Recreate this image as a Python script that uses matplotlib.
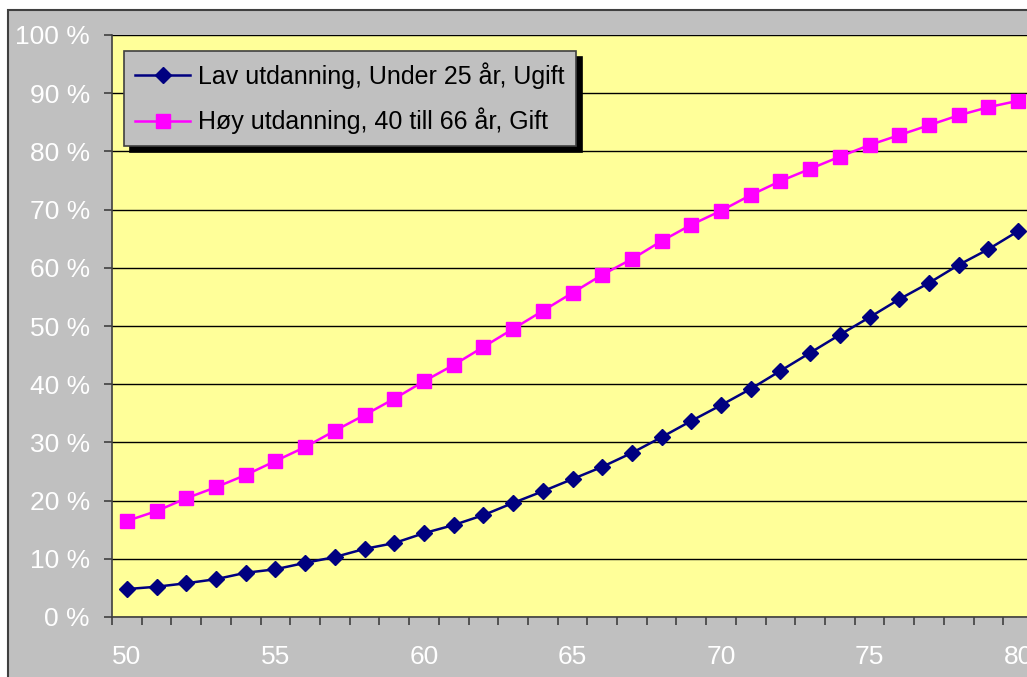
import matplotlib
matplotlib.use("Agg")
import matplotlib.pyplot as plt
from matplotlib.patches import Rectangle
from matplotlib.ticker import FixedLocator, FuncFormatter

ages = list(range(50, 81))
lav = [4.8, 5.2, 5.8, 6.5, 7.6, 8.2, 9.3, 10.3, 11.7, 12.7, 14.4, 15.8, 17.5, 19.6,
       21.6, 23.7, 25.8, 28.2, 30.9, 33.7, 36.4, 39.2, 42.3, 45.4, 48.5, 51.5, 54.6,
       57.4, 60.5, 63.2, 66.3]
hoy = [16.5, 18.2, 20.4, 22.3, 24.4, 26.8, 29.2, 32.0, 34.7, 37.5, 40.5, 43.3, 46.4,
       49.5, 52.6, 55.7, 58.8, 61.5, 64.6, 67.4, 69.8, 72.5, 74.9, 77.0, 79.1, 81.1,
       82.8, 84.5, 86.2, 87.6, 88.7]
series_names = ["Lav utdanning, Under 25 år, Ugift", "Høy utdanning, 40 till 66 år, Gift"]
x_labels = [50, 55, 60, 65, 70, 75, 80]
y_ticks = list(range(0, 101, 10))

plt.rcParams['font.family'] = ['Liberation Sans', 'DejaVu Sans']

W, H = 1027, 677
fig = plt.figure(figsize=(W / 100, H / 100), dpi=100, facecolor='white')

# chart area (grey) with border
fig.patches.append(Rectangle((8 / W, -0.1), 1.2, (H - 10) / H + 0.1, transform=fig.transFigure,
                             facecolor='#c0c0c0', edgecolor='#404040', linewidth=1.5, zorder=-5))

left, top, bottom, right = 112, 35, 617, 1033
ax = fig.add_axes([left / W, (H - bottom) / H, (right - left) / W, (bottom - top) / H])
ax.set_zorder(1)
ax.set_facecolor('#ffff99')

ax.plot(ages, lav, color='#000080', marker='D', markersize=8, linewidth=1.8,
        label=series_names[0], clip_on=False, zorder=3)
ax.plot(ages, hoy, color='#ff00ff', marker='s', markersize=10, linewidth=1.8,
        label=series_names[1], clip_on=False, zorder=3)

ax.set_xlim(49.5, 80.5)
ax.set_ylim(0, 100)

ax.set_yticks(y_ticks)
ax.yaxis.set_major_formatter(FuncFormatter(lambda v, p: f"{int(v)} %"))
ax.grid(axis='y', color='black', linewidth=1.0)
ax.set_axisbelow(True)

ax.xaxis.set_major_locator(FixedLocator(x_labels))
ax.xaxis.set_minor_locator(FixedLocator([a - 0.5 for a in ages] + [80.5]))
ax.tick_params(axis='x', which='major', length=0, pad=20, labelsize=19, labelcolor='white')
ax.tick_params(axis='x', which='minor', length=6, width=1.2, color='#404040', direction='out')
ax.tick_params(axis='y', which='major', length=6, width=1.2, color='#404040', direction='out',
               labelsize=19, labelcolor='white', pad=10)

for s in ['top', 'right']:
    ax.spines[s].set_visible(False)
for s in ['left', 'bottom']:
    ax.spines[s].set_color('#404040')
    ax.spines[s].set_linewidth(1.2)

leg = ax.legend(loc='upper left', bbox_to_anchor=((124 - left) / (right - left), 1 - (51 - top) / (bottom - top)),
                frameon=True, fancybox=False, facecolor='#c0c0c0', edgecolor='#404040',
                framealpha=1, fontsize=18, handlelength=2.2, handletextpad=0.3,
                borderpad=0.45, labelspacing=0.75, borderaxespad=0,
                shadow={'color': 'black', 'alpha': 1, 'ox': 4.5, 'oy': -4.5})
leg.get_frame().set_linewidth(1.2)

fig.savefig('out.png', dpi=100, facecolor=fig.get_facecolor())
